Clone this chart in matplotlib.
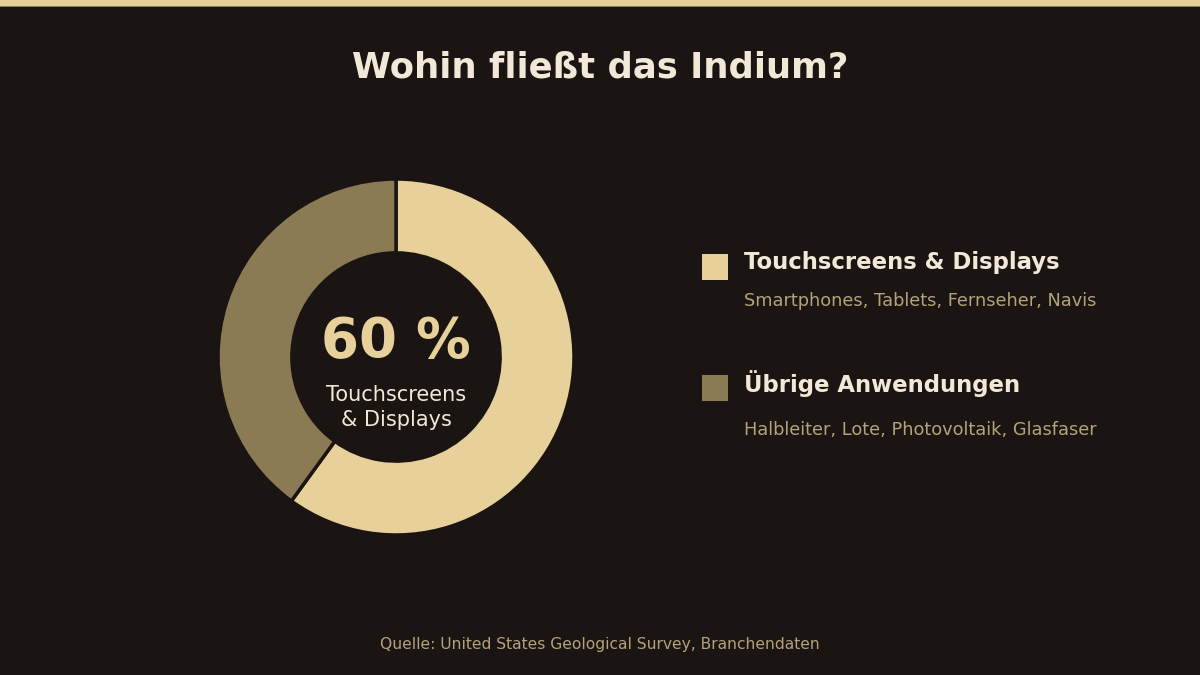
import matplotlib
matplotlib.use('Agg')
import matplotlib.pyplot as plt
from matplotlib.patches import Rectangle

plt.rcParams['font.family'] = ['DejaVu Sans']

# data
labels = ['Touchscreens & Displays', 'Übrige Anwendungen']
details = ['Smartphones, Tablets, Fernseher, Navis', 'Halbleiter, Lote, Photovoltaik, Glasfaser']
shares = [60, 40]
colors = ['#e8d09a', '#8a7b55']

BG = '#1a1512'
TEXT = '#f2e8d8'
MUTED = '#b3a37a'

W, H = 1200, 675
fig = plt.figure(figsize=(12, 6.75), dpi=100, facecolor=BG)

# top accent line
fig.patches.append(Rectangle((0, 1 - 6 / H), 1, 6 / H, transform=fig.transFigure,
                             facecolor=colors[0], edgecolor='none'))
fig.patches.append(Rectangle((0, 1 - 7 / H), 1, 1 / H, transform=fig.transFigure,
                             facecolor='#8a7b55', edgecolor='none'))

fig.text(0.5, 1 - 67 / H, 'Wohin fließt das Indium?', ha='center', va='center',
         fontsize=25.5, fontweight='bold', color=TEXT)

# donut
cx, cy, r = 396, 357, 178
ax = fig.add_axes([(cx - r) / W, (H - cy - r) / H, 2 * r / W, 2 * r / H])
ax.set_facecolor(BG)
ax.pie(shares, colors=colors, startangle=90, counterclock=False, radius=1,
       wedgeprops=dict(width=0.415, edgecolor=BG, linewidth=2.5))
ax.set_xlim(-1, 1)
ax.set_ylim(-1, 1)
ax.set_aspect('equal')
ax.axis('off')

ax.text(0, 0.085, f'{shares[0]} %', ha='center', va='center', fontsize=39.3,
        fontweight='bold', color=colors[0])
ax.text(0, -0.285, 'Touchscreens\n& Displays', ha='center', va='center', fontsize=15,
        color=TEXT, linespacing=1.3)

# legend
rows_y = [267, 388]
sub_y = [301, 430]
for i in range(len(labels)):
    fig.patches.append(Rectangle((702 / W, 1 - (rows_y[i] + 13) / H), 26 / W, 26 / H,
                                 transform=fig.transFigure, facecolor=colors[i],
                                 edgecolor='none'))
    fig.text(744 / W, 1 - (rows_y[i] - 4) / H, labels[i], ha='left', va='center',
             fontsize=16.4, fontweight='bold', color=TEXT)
    fig.text(744 / W, 1 - sub_y[i] / H, details[i], ha='left', va='center',
             fontsize=12.8, color=MUTED)

fig.text(0.5, 1 - 644 / H, 'Quelle: United States Geological Survey, Branchendaten',
         ha='center', va='center', fontsize=11.2, color=MUTED)

fig.savefig('out.png', facecolor=BG)
